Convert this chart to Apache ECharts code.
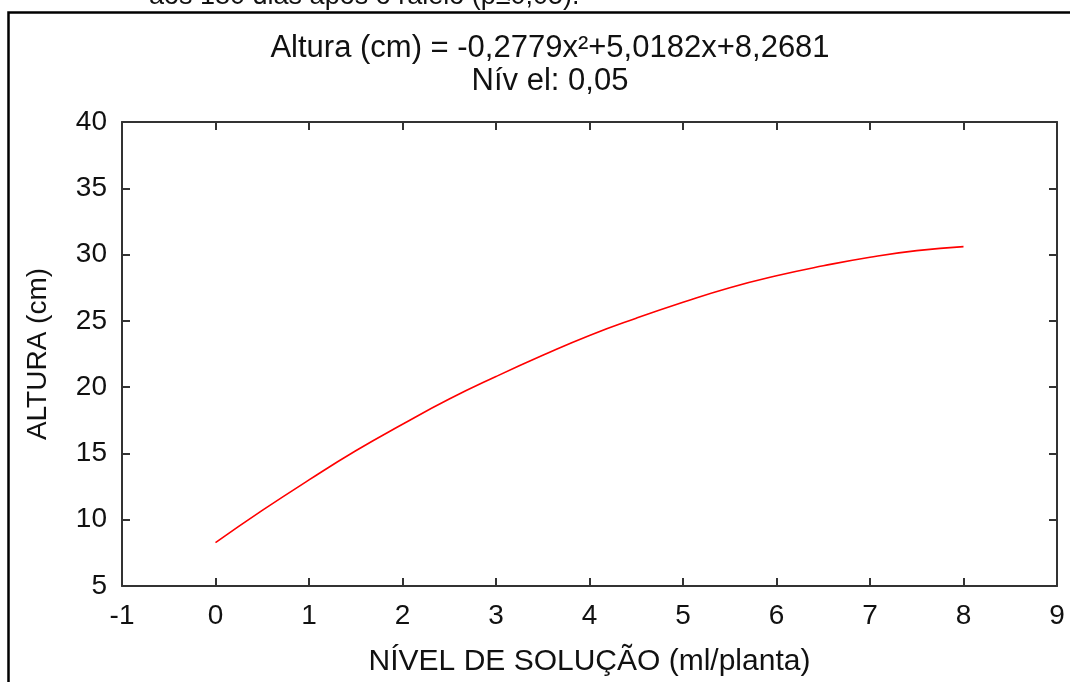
<!DOCTYPE html>
<html>
<head>
<meta charset="utf-8">
<script src="https://cdn.jsdelivr.net/npm/echarts@6/dist/echarts.min.js"></script>
<style>
  html, body { margin: 0; padding: 0; background: #fff; }
  #main { width: 1070px; height: 682px; }
</style>
</head>
<body>
<div id="main"></div>
<script>
// valores
var niveis = [0, 0.5, 1, 1.5, 2, 2.5, 3, 3.5, 4, 4.5, 5, 5.5, 6, 6.5, 7, 7.5, 8];
var altura = [8.27, 10.7, 13.0, 15.2, 17.2, 19.1, 20.8, 22.4, 23.9, 25.2, 26.4, 27.5, 28.4, 29.15, 29.8, 30.3, 30.6];

var titulo = "Altura (cm) = -0,2779x²+5,0182x+8,2681\nNív el: 0,05";
var legendaTopo = "aos 180 dias após o raleio (p≤0,05).";
var nomeX = "NÍVEL DE SOLUÇÃO (ml/planta)";
var nomeY = "ALTURA (cm)";

var fonte = "'Liberation Sans', Arial, sans-serif";
var corTexto = "#111";
var corEixo = "#333";

var pontos = niveis.map(function (x, i) { return [x, altura[i]]; });

var myChart = echarts.init(document.getElementById("main"));

var eixoX = {
  type: "value",
  min: -1,
  max: 9,
  interval: 1,
  splitLine: { show: false },
  axisLine: { show: true, onZero: false, lineStyle: { color: corEixo, width: 2 } },
  axisTick: { show: true, inside: true, length: 8, lineStyle: { color: corEixo, width: 2 } }
};
var eixoY = {
  type: "value",
  min: 5,
  max: 40,
  interval: 5,
  splitLine: { show: false },
  axisLine: { show: true, onZero: false, lineStyle: { color: corEixo, width: 2 } },
  axisTick: { show: true, inside: true, length: 8, lineStyle: { color: corEixo, width: 2 } }
};

myChart.setOption({
  animation: false,
  title: {
    text: titulo,
    left: 545,
    top: 27,
    textAlign: "center",
    textStyle: {
      fontFamily: fonte,
      fontSize: 31,
      fontWeight: "normal",
      color: corTexto,
      lineHeight: 33
    }
  },
  grid: {
    left: 122,
    right: 13,
    top: 122,
    bottom: 94
  },
  graphic: [
    {
      type: "rect",
      shape: { x: 8.5, y: 12.5, width: 1200, height: 800 },
      style: { fill: "none", stroke: "#000", lineWidth: 2.5 }
    },
    {
      type: "text",
      style: {
        text: legendaTopo,
        x: 149,
        y: -3,
        font: "27px " + fonte,
        fill: "#111",
        verticalAlign: "middle"
      }
    }
  ],
  xAxis: [
    Object.assign({}, eixoX, {
      position: "bottom",
      name: nomeX,
      nameLocation: "middle",
      nameGap: 61,
      nameTextStyle: { fontFamily: fonte, fontSize: 30, color: corTexto },
      axisLabel: { margin: 16, fontFamily: fonte, fontSize: 28, color: corTexto }
    }),
    Object.assign({}, eixoX, {
      position: "top",
      axisLabel: { show: false }
    })
  ],
  yAxis: [
    Object.assign({}, eixoY, {
      position: "left",
      name: nomeY,
      nameLocation: "middle",
      nameGap: 70,
      nameTextStyle: { fontFamily: fonte, fontSize: 28, color: corTexto },
      axisLabel: { margin: 15, fontFamily: fonte, fontSize: 28, color: corTexto }
    }),
    Object.assign({}, eixoY, {
      position: "right",
      axisLabel: { show: false }
    })
  ],
  series: [
    {
      name: "Altura",
      type: "line",
      data: pontos,
      smooth: true,
      showSymbol: false,
      lineStyle: { color: "#ff0000", width: 1.6 },
      itemStyle: { color: "#ff0000" }
    }
  ]
});
</script>
</body>
</html>
